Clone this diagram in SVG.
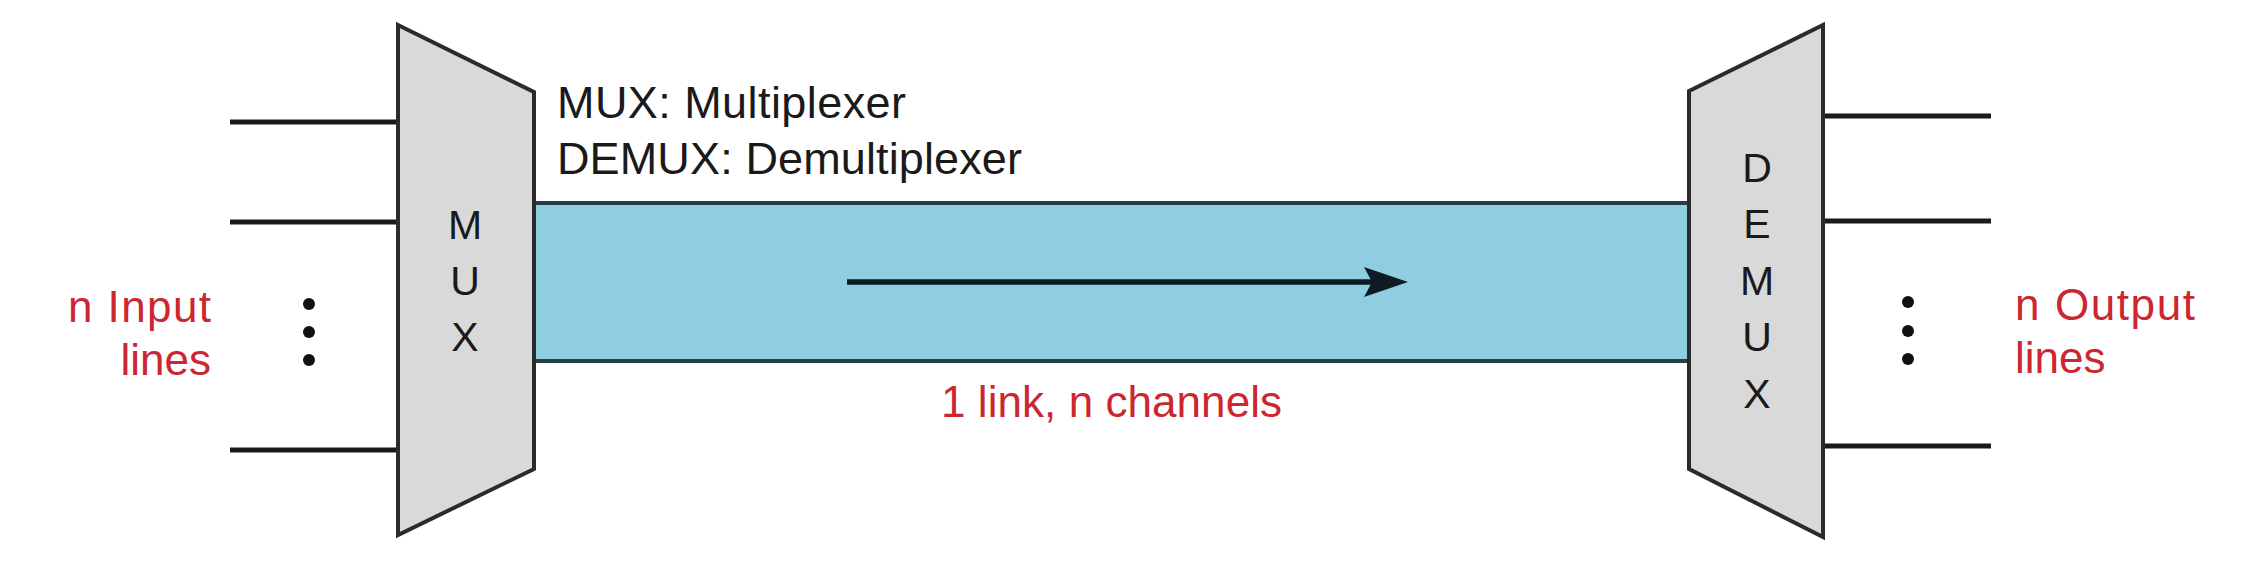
<svg xmlns="http://www.w3.org/2000/svg" width="2264" height="578" viewBox="0 0 2264 578">
<style>
.dev{fill:#d9d9d9;stroke:#2b2b2b;stroke-width:4;stroke-linejoin:miter}
.line{stroke:#1a1a1a;stroke-width:5;fill:none}
.let{font-family:"Liberation Sans",Arial,sans-serif;font-size:41px;fill:#1a1a1a;text-anchor:middle}
.blk{font-family:"Liberation Sans",Arial,sans-serif;font-size:45px;fill:#1a1a1a}
.red{font-family:"Liberation Sans",Arial,sans-serif;font-size:44px;fill:#cc2630}
.dot{fill:#111}
</style>
<g id="link">
<rect x="534" y="203" width="1155" height="158" fill="#8fcde0"/>
<line x1="534" y1="203" x2="1689" y2="203" stroke="#2a3c44" stroke-width="4"/>
<line x1="534" y1="361" x2="1689" y2="361" stroke="#2a3c44" stroke-width="4"/>
<text class="red" x="941" y="417" textLength="341">1 link, n channels</text>
</g>
<g id="connectors">
<line class="line" x1="230" y1="122" x2="398" y2="122"/>
<line class="line" x1="230" y1="222" x2="398" y2="222"/>
<line class="line" x1="230" y1="450" x2="398" y2="450"/>
<line class="line" x1="1823" y1="116" x2="1991" y2="116"/>
<line class="line" x1="1823" y1="221" x2="1991" y2="221"/>
<line class="line" x1="1823" y1="446" x2="1991" y2="446"/>
<line x1="847" y1="282" x2="1375" y2="282" stroke="#0f1a24" stroke-width="5.5"/>
<path d="M1408,282 L1364,267 L1372,282 L1364,297 Z" fill="#0f1a24"/>
</g>
<g id="inputs">
<circle class="dot" cx="309" cy="304" r="6"/>
<circle class="dot" cx="309" cy="332" r="6"/>
<circle class="dot" cx="309" cy="360" r="6"/>
<text class="red" x="211" y="322" text-anchor="end" textLength="143">n Input</text>
<text class="red" x="211" y="375" text-anchor="end">lines</text>
</g>
<g id="mux">
<polygon class="dev" points="398,25 534,92 534,469 398,535"/>
<text class="let" x="465" y="239">M</text>
<text class="let" x="465" y="295">U</text>
<text class="let" x="465" y="351">X</text>
</g>
<g id="legend">
<text class="blk" x="557" y="118" textLength="349">MUX: Multiplexer</text>
<text class="blk" x="557" y="174" textLength="465">DEMUX: Demultiplexer</text>
</g>
<g id="demux">
<polygon class="dev" points="1689,91 1823,25 1823,537 1689,469"/>
<text class="let" x="1757" y="182">D</text>
<text class="let" x="1757" y="238">E</text>
<text class="let" x="1757" y="295">M</text>
<text class="let" x="1757" y="351">U</text>
<text class="let" x="1757" y="408">X</text>
</g>
<g id="outputs">
<circle class="dot" cx="1908" cy="302" r="6"/>
<circle class="dot" cx="1908" cy="331" r="6"/>
<circle class="dot" cx="1908" cy="359" r="6"/>
<text class="red" x="2015" y="320" textLength="180">n Output</text>
<text class="red" x="2015" y="373">lines</text>
</g>
</svg>
